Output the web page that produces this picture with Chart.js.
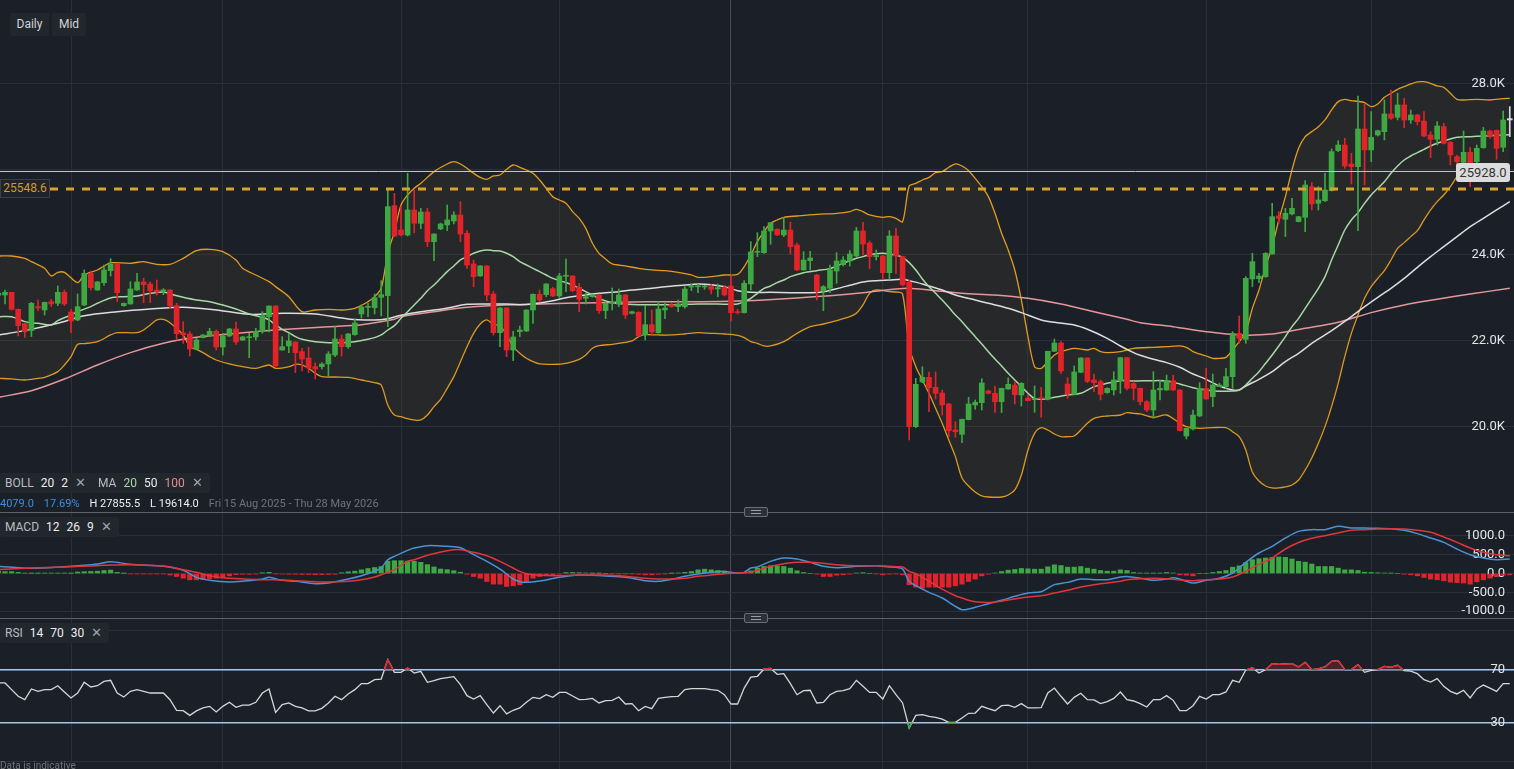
<!DOCTYPE html>
<html>
<head>
<meta charset="utf-8">
<title>Daily</title>
<script src="https://cdn.jsdelivr.net/npm/chart.js@4/dist/chart.umd.min.js"></script>
<style>
  html, body { margin: 0; padding: 0; background: #1b2028; }
  body { width: 1514px; height: 769px; overflow: hidden; position: relative; font-family: Roboto, "Noto Sans", Arial, sans-serif; }
  canvas { position: absolute; left: 0; display: block; }
  #mainChart { top: 0; }
  #macdChart { top: 513px; }
  #rsiChart { top: 619px; }
  .btn { position: absolute; top: 13px; height: 23px; line-height: 23px; background: #22262d; color: #d2d4d8; font-size: 12px; text-align: center; border-radius: 2px; }
  .tag { position: absolute; height: 20px; line-height: 20px; background: #22262d; color: #b9bcc2; font-size: 12px; padding: 0 7px 0 5px; white-space: nowrap; border-radius: 2px; }
  .tag b { font-weight: normal; color: #eceef0; margin-left: 7px; }
  .tag i { font-style: normal; color: #a0a3a8; margin-left: 7px; font-size: 13px; }
  .sep { position: absolute; left: 0; width: 1514px; height: 1px; background: #5e6168; }
  .handle { position: absolute; left: 744px; width: 22px; height: 8px; background: #2c3038; border: 1px solid #6a6d74; border-radius: 2px; }
  .handle:before, .handle:after { content: ""; position: absolute; left: 6px; width: 10px; height: 1px; background: #9a9da3; }
  .handle:before { top: 2px; } .handle:after { top: 5px; }
  #info { position: absolute; top: 497px; left: 0; font-size: 11px; color: #6f747b; white-space: nowrap; }
  #info span { margin-right: 10px; }
  #leftLevel { position: absolute; left: 0; top: 179px; width: 48px; height: 17px; line-height: 17px; background: #1f232a; border: 1px solid #3a3e45; color: #d39a2c; font-size: 12px; text-align: center; }
  #rightLevel { position: absolute; left: 1456px; top: 163px; width: 54px; height: 19px; line-height: 19px; background: #dcdcdc; color: #333; font-size: 13px; text-align: center; border-radius: 3px; }
  #note { position: absolute; left: 0; top: 760px; font-size: 10px; color: #6f747b; }
</style>
</head>
<body>
<canvas id="mainChart" width="1514" height="512"></canvas>
<canvas id="macdChart" width="1514" height="105"></canvas>
<canvas id="rsiChart" width="1514" height="150"></canvas>

<div class="btn" style="left:10px;width:39px">Daily</div>
<div class="btn" style="left:52px;width:34px">Mid</div>
<div id="leftLevel">25548.6</div>
<div id="rightLevel">25928.0</div>
<div class="tag" style="left:0;top:473px">BOLL<b>20</b><b>2</b><i>✕</i></div>
<div class="tag" style="left:91px;top:473px;padding-left:7px">MA<b style="color:#a6d9a2">20</b><b>50</b><b style="color:#e58f8f">100</b><i>✕</i></div>
<div id="info"><span style="color:#3d8fe0">4079.0</span><span style="color:#3d8fe0">17.69%</span><span style="color:#eef0f2">H 27855.5</span><span style="color:#eef0f2">L 19614.0</span><span>Fri 15 Aug 2025 - Thu 28 May 2026</span></div>
<div class="sep" style="top:512px"></div>
<div class="handle" style="top:507px"></div>
<div class="tag" style="left:0;top:517px">MACD<b>12</b><b>26</b><b>9</b><i>✕</i></div>
<div class="sep" style="top:618px"></div>
<div class="handle" style="top:613px"></div>
<div class="tag" style="left:0;top:623px">RSI<b>14</b><b>70</b><b>30</b><i>✕</i></div>
<div id="note">Data is indicative</div>

<script>
// candles, one per trading day (index 0 = partly hidden at the left edge)
const opens = [
  23060,23064,23126,22730,22395,22232,22792,22714,22908,22870,
  23126,22667,22481,22831,23570,23181,23352,23632,23788,22815,
  22854,23181,23368,23321,23181,23160,23181,22815,22177,22154,
  21804,22068,22107,22216,21850,22107,22271,22014,22068,22084,
  22216,22558,22807,21780,21874,21967,21742,21594,21391,21391,
  21454,21664,22037,21858,22138,22621,22776,22768,23010,23049,
  25149,24581,24465,25048,24737,25001,24309,24605,24698,24791,
  24931,24504,23788,23508,23741,23087,22185,22761,21780,22208,
  22224,22714,23080,23072,23212,23041,23500,23508,23243,22986,
  23025,23064,22698,22870,22854,23064,22636,22660,22138,22372,
  22185,22714,22839,22792,22792,23250,23255,23250,23259,23204,
  23235,23274,22675,22652,23321,24060,24052,24558,24597,24465,
  24581,24231,23648,23865,23531,23157,23220,23624,23772,23857,
  23974,24558,24278,23960,23974,23585,24441,23959,23360,19991,
  21034,21142,20909,20777,20520,19913,19812,20155,20497,20551,
  20823,20769,20575,20870,20963,20730,20660,20620,20660,20629,
  21749,21944,20987,20746,21259,21594,21080,21041,20785,20847,
  21065,21602,20995,20886,20574,20380,20847,20847,21065,20847,
  19773,19937,20240,20886,20691,20925,20925,21158,22169,22029,
  23438,23445,23492,24021,24908,24830,24955,24776,24877,25593,
  25204,25266,25499,26433,26565,26122,26059,26939,26449,26798,
  26876,27289,27211,27499,27149,27265,27125,26799,26697,26993,
  26627,26293,26161,26394,26176,26503,26892,26908,26511,27149
];
const highs = [
  23130,23181,23130,22740,22400,22893,22947,22900,22963,23274,
  23181,22730,23087,23648,23624,23380,23764,23912,23800,22880,
  23375,23570,23453,23368,23414,23212,23190,22870,22442,22208,
  22053,22140,22286,22247,22170,22286,22434,22100,22170,22286,
  22675,22810,22815,22092,22170,21975,21819,21843,21485,21485,
  21742,22325,22130,22170,22504,22831,22870,23087,23399,25530,
  25437,25126,25904,25515,25087,25087,24490,24740,25165,25009,
  25243,24566,23881,23750,23750,23150,22770,22770,22216,22340,
  22720,23090,23181,23330,23243,23570,23904,23515,23336,23103,
  23080,23087,22908,23227,23204,23080,22690,22675,22823,22714,
  22908,22870,22870,22947,23259,23321,23321,23290,23305,23321,
  23290,23531,22730,23399,24309,24519,24659,24760,24610,24877,
  24760,24278,24075,24083,23546,23282,23764,24052,23959,24099,
  24643,24760,24324,24115,23990,24566,24628,23970,23414,21119,
  21391,21267,21267,20847,20536,20108,20170,20676,20613,21111,
  20847,20940,20890,21134,21041,21018,20730,20940,20909,21755,
  22037,21975,21134,21407,21600,21600,21220,21080,20900,21275,
  21610,21610,21042,20890,20598,21275,21080,21197,21189,20855,
  19960,20380,21018,21353,21220,21003,21353,22208,22574,23492,
  24037,23570,24052,25204,25009,25087,25320,24900,25733,25686,
  25593,25904,26472,26666,26721,26371,27709,27522,27343,26910,
  27615,27849,27771,27654,27382,27281,27343,26876,27110,27071,
  26643,26332,26892,26503,26565,26978,26915,26915,27359,27460
];
const lows = [
  23030,22854,22714,22107,22076,22092,22698,22597,22792,22815,
  22815,22185,22465,22815,23181,23170,23290,23508,22908,22800,
  22850,23170,22885,22885,23064,23072,22753,22014,21936,21640,
  21796,22060,22092,21780,21664,22092,21913,22000,21601,22014,
  22170,22201,21400,21775,21718,21252,21290,21252,21104,21337,
  21158,21625,21640,21819,22123,22527,22558,22621,22574,22325,
  24426,24441,24441,24519,24612,24192,23865,24590,24566,24721,
  24309,23687,23259,23500,22932,22131,21858,21625,21531,22092,
  22208,22403,22901,23025,23025,23010,23142,23142,22675,22854,
  23010,22636,22512,22714,22792,22512,22620,22092,22014,22115,
  22170,22512,22776,22675,22753,23165,23118,23196,23087,23025,
  23041,22457,22621,22640,23181,23959,24037,24247,24450,24426,
  24021,23632,23640,23648,22947,22698,23118,23337,23741,23741,
  23959,23998,23679,23881,23430,23430,23570,23274,19680,19968,
  21018,20341,20637,20263,19757,19742,19618,20150,20396,20380,
  20754,20326,20318,20862,20520,20473,20590,20326,20209,20613,
  21741,21236,20652,20730,21250,21018,20808,20613,20770,20730,
  20769,20847,20614,20497,20341,20186,20614,20840,20831,19890,
  19703,19913,20225,20629,20458,20925,20886,20886,21936,21936,
  23259,23352,23476,24020,24737,24426,24931,24770,24542,25048,
  25048,25242,25490,26410,26020,25655,24566,25632,26176,26775,
  26682,27164,27149,26970,27071,27032,26760,26270,26565,26588,
  26098,26098,26098,25593,26137,26487,26721,26231,26410,26760
];
const closes = [
  23100,23126,22730,22348,22208,22870,22761,22893,22854,23126,
  22854,22457,22792,23570,23235,23368,23648,23788,23118,22870,
  23204,23368,23305,23165,23134,23170,22815,22162,22138,21804,
  22014,22130,22216,21850,22107,22271,21967,22084,22084,22216,
  22582,22807,21407,21858,21991,21718,21570,21360,21337,21454,
  21687,22037,21858,22154,22411,22784,22792,23002,23072,25126,
  24441,24465,25048,24737,25001,24309,24488,24721,24815,24931,
  24488,23764,23492,23741,23064,22185,22761,21780,22084,22247,
  22714,23080,22947,23321,23041,23508,23515,23165,22963,23025,
  23064,22698,22870,22885,23064,22597,22675,22115,22372,22201,
  22737,22761,22792,22854,23204,23260,23265,23258,23196,23235,
  23064,22652,22652,23337,24068,24075,24558,24752,24465,24581,
  24192,23648,23881,23928,23157,23259,23648,23857,23881,24021,
  24558,24254,23959,23972,23585,24441,23974,23305,19991,20979,
  21142,20901,20769,20497,19898,19874,20162,20520,20559,21010,
  20769,20575,20886,20979,20738,21002,20598,20630,20645,21749,
  21944,21290,20754,21267,21594,21049,21018,20746,20886,21081,
  21602,20886,20886,20574,20380,20847,20886,21065,20847,19898,
  19952,20263,20886,20637,20964,20964,21158,22169,22053,23453,
  23842,23507,24037,24892,24853,24970,25087,24892,25632,25188,
  25282,25515,26410,26565,26075,26059,26939,26449,26744,26900,
  27289,27188,27499,27149,27265,27110,26775,26697,27009,26604,
  26332,26176,26394,26137,26487,26892,26775,26487,27149,27180
];

// overlay lines as [candle index, value]
const bollUpper = [
  [0,23974],[2,23974],[4,23920],[5,23842],[7,23687],[8,23508],[9,23593],[10,23593],[12,23352],[13,23531],
  [15,23648],[16,23741],[17,23819],[20,23803],[22,23842],[24,23780],[26,23780],[28,23920],[30,24099],[32,24130],
  [34,24076],[36,23881],[37,23687],[39,23531],[41,23375],[42,23259],[44,23025],[46,22675],[48,22714],[50,22730],
  [52,22714],[54,22753],[56,22908],[57,23025],[58,23220],[59,24037],[60,24542],[61,25165],[62,25398],[63,25554],
  [64,25670],[66,25943],[68,26122],[69,26176],[70,26122],[71,26020],[72,25904],[73,25810],[74,25764],[75,25842],
  [76,25865],[77,25997],[78,26098],[79,26044],[80,25982],[81,25904],[82,25748],[83,25554],[84,25359],[85,25281],
  [86,25204],[87,25009],[88,24853],[89,24620],[90,24270],[91,24037],[92,23904],[93,23788],[95,23741],[97,23687],
  [99,23648],[101,23632],[103,23593],[105,23531],[106,23477],[108,23492],[110,23531],[112,23546],[113,23725],[114,23998],
  [115,24309],[116,24542],[117,24737],[118,24815],[119,24877],[121,24908],[124,24947],[127,24970],[129,25009],[130,25064],
  [131,25009],[132,24931],[134,24877],[135,24893],[136,24853],[137,24776],[138,25608],[139,25670],[140,25748],[141,25810],
  [142,25919],[143,25943],[144,26044],[145,26122],[146,26075],[147,25966],[148,25787],[149,25593],[150,25359],[151,24970],
  [152,24504],[153,24115],[154,23648],[155,22947],[156,22092],[157,21391],[158,21353],[159,21508],[160,21664],[161,21742],
  [163,21819],[165,21780],[166,21819],[167,21742],[168,21718],[170,21742],[172,21819],[175,21843],[177,21858],[179,21874],
  [180,21843],[181,21742],[182,21687],[183,21640],[184,21586],[185,21586],[186,21609],[187,21780],[188,21975],[189,22208],
  [190,22753],[191,23181],[192,23725],[193,24192],[194,24815],[195,25359],[196,25982],[197,26487],[198,26760],[199,26877],
  [200,26993],[201,27149],[202,27382],[203,27577],[204,27631],[205,27600],[206,27584],[207,27553],[208,27460],[209,27522],
  [210,27678],[211,27771],[212,27864],[213,27927],[214,27989],[215,28036],[216,28043],[217,28004],[218,27942],[219,27911],
  [220,27771],[221,27631],[222,27615],[224,27631],[226,27615],[228,27647],[229,27654]
];
const bollLower = [
  [0,21119],[2,21104],[4,21080],[6,21119],[7,21142],[9,21275],[10,21430],[11,21625],[12,21913],[13,21928],
  [15,21975],[17,22131],[18,22185],[21,22185],[22,22247],[23,22364],[24,22481],[25,22496],[26,22418],[27,22286],
  [28,22131],[29,21858],[30,21796],[31,21718],[32,21625],[33,21547],[35,21454],[37,21391],[39,21353],[41,21430],
  [42,21353],[44,21391],[45,21446],[46,21430],[47,21353],[48,21236],[49,21158],[51,21150],[53,21142],[55,21080],
  [57,21018],[58,20963],[59,20497],[60,20263],[61,20224],[62,20178],[63,20147],[64,20147],[65,20263],[66,20458],
  [67,20629],[68,20886],[69,21158],[70,21508],[71,21858],[72,22169],[73,22387],[74,22481],[75,22379],[76,22348],
  [77,22131],[78,21858],[79,21703],[80,21586],[81,21508],[82,21454],[84,21446],[86,21470],[88,21563],[89,21664],
  [90,21819],[91,21882],[93,21913],[95,21959],[96,21991],[97,22092],[98,22138],[100,22131],[102,22131],[104,22154],
  [106,22185],[108,22170],[110,22154],[112,22123],[113,22068],[114,21975],[115,21936],[116,21874],[117,21874],[119,21975],
  [121,22169],[123,22325],[125,22387],[127,22465],[129,22558],[130,22636],[131,22831],[132,23103],[133,23181],[135,23142],
  [136,23134],[137,23087],[138,21858],[139,21391],[140,21080],[141,20769],[142,20419],[143,20069],[144,19680],[145,19291],
  [146,18793],[147,18606],[148,18466],[149,18373],[150,18349],[152,18349],[153,18396],[154,18513],[155,18863],[156,19446],
  [157,19835],[158,19968],[159,19913],[160,19820],[161,19757],[162,19757],[163,19773],[164,19913],[165,20069],[166,20185],
  [167,20224],[168,20240],[170,20263],[171,20318],[172,20302],[173,20287],[175,20209],[177,20263],[179,20069],[180,19991],
  [182,19952],[184,19968],[186,19968],[187,19874],[188,19757],[189,19446],[190,18933],[191,18723],[192,18606],[193,18560],
  [194,18560],[195,18583],[196,18629],[197,18746],[198,18979],[199,19259],[200,19602],[201,19991],[202,20458],[203,21003],
  [204,21625],[205,22169],[206,22597],[207,22986],[208,23259],[209,23453],[210,23632],[211,23881],[212,24153],[213,24286],
  [214,24426],[215,24566],[216,24815],[217,25048],[218,25243],[219,25398],[220,25593],[221,25826],[222,25982],[224,26020],
  [226,26020],[229,25982]
];
const ma20 = [
  [0,22558],[2,22558],[4,22442],[6,22403],[8,22364],[9,22465],[11,22597],[12,22675],[14,22792],[15,22870],
  [17,22994],[19,23025],[21,23041],[23,23103],[25,23134],[26,23087],[28,23010],[30,22947],[32,22908],[34,22831],
  [36,22737],[38,22621],[40,22543],[41,22481],[42,22364],[43,22263],[44,22185],[45,22092],[46,22029],[48,21975],
  [50,21952],[52,21952],[54,21975],[56,22029],[57,22068],[58,22131],[59,22247],[60,22348],[61,22519],[62,22675],
  [63,22831],[64,22986],[65,23165],[66,23297],[67,23453],[68,23609],[69,23741],[70,23881],[71,23959],[72,24037],
  [73,24091],[74,24115],[75,24099],[76,24091],[77,24037],[78,23959],[79,23842],[80,23764],[81,23687],[82,23609],
  [83,23531],[84,23453],[85,23399],[86,23352],[87,23297],[88,23220],[89,23142],[90,23064],[91,22986],[92,22924],
  [93,22885],[95,22854],[97,22839],[100,22839],[103,22839],[106,22854],[109,22854],[111,22846],[112,22854],[113,22908],
  [114,22986],[115,23103],[116,23220],[117,23274],[118,23352],[119,23414],[120,23492],[122,23585],[124,23632],[126,23679],
  [127,23741],[128,23803],[129,23865],[130,23920],[131,23959],[132,24006],[133,24029],[134,24037],[135,24021],[136,23998],
  [137,23943],[138,23819],[139,23648],[140,23438],[141,23259],[142,23103],[143,22947],[144,22776],[145,22597],[146,22442],
  [147,22263],[148,22092],[149,21921],[150,21742],[151,21570],[152,21407],[153,21236],[154,21080],[155,20925],[156,20769],
  [157,20645],[158,20629],[159,20645],[160,20676],[162,20730],[164,20769],[166,20925],[168,21003],[170,21065],[172,21057],
  [175,21065],[177,21057],[179,20987],[181,20901],[183,20847],[185,20816],[187,20823],[188,20847],[189,20964],[190,21119],
  [191,21275],[192,21469],[193,21664],[194,21874],[195,22091],[196,22325],[197,22519],[198,22753],[199,22986],[200,23220],
  [201,23492],[202,23881],[203,24231],[204,24581],[205,24815],[206,24986],[207,25203],[208,25398],[209,25554],[210,25709],
  [211,25904],[212,26075],[213,26215],[214,26308],[215,26386],[216,26464],[217,26542],[218,26604],[219,26659],[220,26705],
  [221,26744],[223,26760],[225,26775],[227,26791],[229,26806]
];
const ma50 = [
  [0,22131],[4,22232],[9,22403],[13,22582],[18,22675],[23,22737],[28,22776],[33,22714],[38,22613],[43,22636],
  [48,22621],[53,22504],[57,22481],[59,22512],[61,22590],[64,22675],[67,22730],[69,22792],[71,22846],[74,22854],
  [77,22854],[79,22839],[81,22862],[84,22932],[86,23002],[89,23064],[91,23103],[94,23142],[96,23181],[99,23220],
  [101,23259],[104,23297],[106,23321],[108,23305],[110,23259],[112,23165],[114,23126],[117,23126],[120,23118],[123,23118],
  [125,23142],[127,23212],[129,23290],[131,23368],[133,23399],[135,23414],[137,23430],[138,23399],[140,23321],[143,23181],
  [145,23064],[148,22947],[150,22870],[153,22753],[155,22652],[158,22481],[160,22426],[163,22364],[165,22263],[168,22053],
  [170,21874],[172,21718],[173,21656],[175,21562],[177,21485],[179,21376],[181,21220],[183,21096],[185,20940],[187,20847],
  [188,20847],[189,20940],[191,21096],[193,21275],[195,21508],[197,21703],[199,21936],[201,22131],[203,22340],[205,22559],
  [207,22792],[209,23010],[211,23220],[213,23453],[215,23710],[217,23959],[219,24192],[221,24426],[223,24659],[225,24854],
  [227,25048],[229,25243]
];
const ma100 = [
  [0,20676],[5,20831],[10,21104],[15,21430],[20,21718],[25,21936],[30,22076],[35,22154],[40,22224],[45,22278],
  [50,22325],[55,22372],[60,22500],[61,22559],[66,22675],[71,22776],[76,22823],[81,22846],[86,22870],[91,22885],
  [96,22901],[101,22908],[106,22908],[111,22916],[116,22947],[121,22994],[126,23049],[131,23118],[136,23204],[138,23220],
  [141,23181],[146,23103],[151,23064],[156,22986],[161,22854],[166,22675],[171,22496],[173,22418],[178,22325],[183,22208],
  [188,22131],[193,22154],[198,22286],[203,22426],[208,22652],[213,22831],[218,22963],[223,23087],[229,23220]
];

const macdLine = [
  [0,190],[5,137],[10,181],[13,217],[15,252],[17,314],[20,243],[25,190],[28,84],[30,-102],
  [32,-181],[35,-226],[40,-146],[41,-102],[43,-181],[45,-208],[48,-270],[50,-252],[53,-146],[55,-58],
  [57,60],[58,150],[59,363],[60,456],[62,615],[63,677],[65,739],[68,721],[70,686],[72,500],
  [74,323],[76,119],[78,-146],[79,-217],[80,-235],[82,-199],[85,-102],[88,-40],[90,-49],[92,-66],
  [95,-102],[98,-190],[100,-208],[102,-155],[104,-75],[106,-13],[108,31],[110,58],[111,31],[112,13],
  [113,31],[114,146],[115,173],[117,323],[119,412],[121,385],[123,296],[125,190],[127,155],[130,190],
  [133,208],[135,173],[136,164],[137,119],[138,-208],[139,-323],[141,-500],[143,-650],[145,-872],[146,-960],
  [147,-942],[148,-898],[150,-801],[152,-712],[154,-606],[156,-518],[158,-482],[160,-296],[162,-235],[164,-146],
  [166,-164],[168,-164],[170,-93],[171,-80],[173,-128],[175,-181],[177,-146],[178,-111],[179,-146],[180,-208],
  [181,-252],[183,-181],[185,-128],[187,13],[189,296],[191,544],[193,721],[195,942],[197,1119],[199,1164],
  [201,1164],[203,1252],[205,1208],[207,1208],[209,1199],[211,1190],[213,1146],[215,1058],[217,942],[219,827],
  [221,650],[223,500],[225,412],[227,367],[229,385]
];
const signalLine = [
  [0,102],[5,146],[10,173],[15,208],[17,226],[20,235],[25,199],[28,102],[30,31],[32,-58],
  [35,-128],[40,-164],[43,-173],[45,-190],[48,-217],[50,-226],[53,-208],[55,-164],[57,-93],[58,-31],
  [60,102],[62,323],[63,367],[65,482],[68,606],[70,633],[72,562],[74,473],[76,323],[78,146],
  [79,58],[80,-4],[82,-49],[85,-58],[88,-40],[92,-40],[95,-75],[98,-128],[100,-146],[102,-146],
  [104,-128],[106,-75],[108,-40],[110,-4],[112,13],[114,40],[115,84],[117,190],[119,261],[121,296],
  [123,296],[125,270],[127,235],[130,208],[133,208],[135,190],[136,181],[137,173],[138,58],[139,-4],
  [141,-208],[143,-416],[145,-589],[146,-650],[147,-712],[148,-752],[150,-770],[152,-734],[154,-677],[156,-624],
  [158,-589],[160,-518],[162,-447],[164,-358],[166,-296],[168,-252],[170,-208],[171,-164],[173,-137],[175,-128],
  [177,-137],[179,-173],[181,-190],[183,-164],[185,-146],[187,-93],[189,58],[191,243],[193,412],[195,650],
  [197,823],[199,934],[201,1004],[203,1075],[205,1146],[207,1164],[209,1181],[211,1190],[213,1181],[215,1146],
  [217,1093],[219,969],[221,827],[223,677],[225,562],[227,500],[229,474]
];
const macdHist = [
  55,50,50,30,10,5,5,10,10,10,
  10,5,40,50,55,60,80,90,30,5,
  -10,-10,-10,-10,-10,-10,-40,-80,-124,-168,
  -168,-150,-135,-125,-100,-62,-30,-20,-20,-15,
  20,30,-10,-15,-20,-20,-25,-25,-30,-30,
  -25,-20,20,44,62,97,133,159,186,323,
  340,340,330,323,296,235,173,119,102,75,
  35,-18,-80,-124,-212,-283,-283,-345,-327,-300,
  -212,-124,-80,-44,-35,-18,25,27,20,15,
  5,5,0,-5,-5,-5,-5,-20,-35,-35,
  -20,-5,5,15,31,53,97,115,97,80,
  53,27,13,20,70,142,186,204,204,186,
  142,71,27,0,-18,-80,-80,-44,-35,-18,
  13,22,0,-10,-35,-18,-10,-35,-300,-363,
  -389,-363,-363,-363,-363,-327,-283,-212,-150,-62,
  -18,13,53,88,106,133,124,115,115,177,
  230,212,168,168,186,142,115,80,62,62,
  97,80,27,10,10,10,10,27,13,-35,
  -44,-62,0,0,27,53,80,168,204,292,
  367,393,411,429,438,429,385,323,301,252,
  186,186,186,142,97,97,80,35,27,18,
  13,9,0,-18,-35,-62,-106,-150,-168,-195,
  -230,-243,-252,-283,-221,-168,-124,-80,-44,-35
];
const rsi = [
  60.1,60.1,55,49.9,47.3,55.5,53.7,55,55,58,
  53.2,48.6,52.4,60.6,57,58,61.3,62.1,52.4,49.4,
  53.7,55,53.7,52.4,52.4,52.4,47.3,39.2,38.9,35.3,
  38.7,41,42.2,37.9,42.2,45.3,41.5,43.2,43.2,45.3,
  52.4,55.5,37.6,43.5,44.8,42.2,41,38.7,38.7,40.7,
  44.8,49.9,47.3,51.7,55,59.6,59.6,62.6,63.1,77.9,
  68.2,68.2,71.5,67.7,69,60.6,61.8,63.4,64.1,64.9,
  58.8,50.4,47.8,50.4,43.5,37.1,42.7,36.4,39.2,41,
  45.3,49.1,48.1,51.1,49.1,52.9,52.9,50.1,47.3,47.6,
  48.3,44.8,46.6,46.8,49.4,44,44.3,38.9,42.2,40.4,
  48.3,49.1,49.6,49.9,55,55.7,55.7,55.7,55,54.5,
  51.1,44,44,56.2,64.5,65.2,70.8,71.3,66.7,67.2,
  59.6,51.1,54.2,54.5,44.8,45.3,51.1,53.7,54.2,55.7,
  62.1,57.5,52.9,52.9,47.8,58,51.1,44.8,25.7,35.3,
  35.9,34.6,33.8,32.5,30,30,33.3,36.9,37.1,42.2,
  40.4,38.9,42.7,43.2,41.5,44.3,41,41,41.2,52.4,
  56.2,49.9,44,49.1,52.2,47.3,47.1,44.3,45.8,48.3,
  53.2,47.3,46.3,44.3,41.7,47.3,47.3,50.4,46.8,38.9,
  38.9,42.7,49.9,47.8,51.1,51.1,53.2,62.1,60.6,70,
  71.8,67.7,70.3,74.8,74.3,74.6,74.8,72.3,75.9,70.3,
  70.8,72.3,76.6,77.1,70.3,70.3,74.1,68.2,69.7,70.3,
  72.8,72,73.6,69.5,69.2,67.2,62.6,60.8,63.4,57.5,
  53.7,51.7,54.5,48.6,55.5,58.5,56.2,53.7,59.6,59.6
];

// horizontal levels, axis ticks and month separators (candle index)
const levels = [{ price: 25928.0, kind: 'price' }, { price: 25548.6, kind: 'alert' }];
const priceTicks = [20000, 22000, 24000, 26000, 28000];
const macdTicks = [-1000, -500, 0, 500, 1000];
const rsiTicks = [0, 30, 70, 100];
const monthIdx = [11, 34, 61, 85, 111, 134, 156, 183, 208];
const yearIdx = 111;

const UP = '#3ea843';
const DOWN = '#e2242a';
const GRID = '#2a3039';
const FONT = 'Roboto, "Noto Sans", Arial, sans-serif';

Chart.defaults.font.family = FONT;
Chart.defaults.animation = false;
Chart.defaults.events = [];

const pts = arr => arr.map(([x, y]) => ({ x: x, y: y }));
const idx = closes.map((c, i) => i);
const candleColor = closes.map((c, i) => i === closes.length - 1 ? '#d8d8d8' : (c >= opens[i] ? UP : DOWN));

function xAxis() {
    return {
        type: 'linear', min: 0.24, max: 229.64, offset: false,
        border: { display: false },
        ticks: { display: false },
        grid: {
            drawTicks: false, offset: false,
            color: c => (c.tick && c.tick.value === yearIdx) ? '#454b55' : GRID
        },
        afterBuildTicks: s => { s.ticks = monthIdx.map(v => ({ value: v })); },
        afterFit: s => { s.height = 0; }
    };
}

function yAxis(min, max, ticks, fmt, gridColor, gridWidth) {
    return {
        type: 'linear', position: 'right', min: min, max: max,
        border: { display: false },
        grid: { drawTicks: false, color: gridColor || GRID, lineWidth: gridWidth || 1 },
        ticks: { mirror: true, padding: -9, color: '#e4e5e7', font: { size: 13 }, callback: fmt },
        afterBuildTicks: s => { s.ticks = ticks.map(v => ({ value: v })); },
        afterFit: s => { s.width = 0; }
    };
}

const baseOptions = {
    responsive: false,
    maintainAspectRatio: false,
    layout: { padding: 0, autoPadding: false },
    plugins: { legend: { display: false }, tooltip: { enabled: false } }
};

// dashed alert level and last price line
const levelLines = {
    id: 'levelLines',
    afterDatasetsDraw(chart) {
        const ctx = chart.ctx;
        const area = chart.chartArea;
        levels.forEach(l => {
            const y = Math.round(chart.scales.y.getPixelForValue(l.price));
            ctx.save();
            ctx.beginPath();
            if (l.kind === 'alert') {
                ctx.strokeStyle = '#d9a02a';
                ctx.lineWidth = 3;
                ctx.setLineDash([8, 8]);
                ctx.moveTo(area.left + 50, y);
                ctx.lineTo(area.right, y);
            } else {
                ctx.strokeStyle = '#c4c6c9';
                ctx.lineWidth = 1;
                ctx.moveTo(area.left, y - 0.5);
                ctx.lineTo(area.right, y - 0.5);
            }
            ctx.stroke();
            ctx.restore();
        });
    }
};

new Chart(document.getElementById('mainChart'), {
    type: 'bar',
    data: {
        datasets: [
            { type: 'line', data: pts(bollUpper), borderColor: '#e39c1e', borderWidth: 1.3, pointRadius: 0, tension: 0.3,
              fill: '+1', backgroundColor: 'rgba(128,106,60,0.11)', order: 9 },
            { type: 'line', data: pts(bollLower), borderColor: '#e39c1e', borderWidth: 1.3, pointRadius: 0, tension: 0.3, fill: false, order: 9 },
            { type: 'line', data: pts(ma100), borderColor: '#e3979b', borderWidth: 1.5, pointRadius: 0, tension: 0.3, order: 6 },
            { type: 'line', data: pts(ma50), borderColor: '#dcdddf', borderWidth: 1.5, pointRadius: 0, tension: 0.3, order: 5 },
            { type: 'line', data: pts(ma20), borderColor: '#a9d9a6', borderWidth: 1.5, pointRadius: 0, tension: 0.3, order: 4 },
            { data: idx.map(i => ({ x: i, y: [lows[i], highs[i]] })), backgroundColor: candleColor,
              barThickness: 1, grouped: false, order: 2 },
            { data: idx.map(i => ({ x: i, y: [Math.min(opens[i], closes[i]), Math.max(opens[i], closes[i])] })),
              backgroundColor: candleColor, barThickness: 5, minBarLength: 1, grouped: false, order: 1 }
        ]
    },
    options: Object.assign({}, baseOptions, {
        scales: {
            x: xAxis(),
            y: yAxis(17999, 29949, priceTicks, v => (v / 1000).toFixed(1) + 'K')
        }
    }),
    plugins: [levelLines]
});

new Chart(document.getElementById('macdChart'), {
    type: 'bar',
    data: {
        datasets: [
            { type: 'line', data: pts(signalLine), borderColor: '#e0363b', borderWidth: 1.5, pointRadius: 0, tension: 0.3, order: 0 },
            { type: 'line', data: pts(macdLine), borderColor: '#4a92d4', borderWidth: 1.5, pointRadius: 0, tension: 0.3, order: 1 },
            { data: macdHist.map((v, i) => ({ x: i, y: v })), backgroundColor: macdHist.map(v => v >= 0 ? UP : DOWN),
              barThickness: 4.5, grouped: false, order: 2 }
        ]
    },
    options: Object.assign({}, baseOptions, {
        scales: {
            x: xAxis(),
            y: yAxis(-1181, 1606, macdTicks, v => v.toFixed(1))
        }
    })
});

// keep the red part of the RSI above 70 and the green part below 30
const zoneClip = {
    id: 'zoneClip',
    beforeDatasetDraw(chart, args) {
        const ds = chart.data.datasets[args.index];
        if (!ds.zone) return;
        const a = chart.chartArea;
        const y = chart.scales.y.getPixelForValue(ds.zone.value);
        const ctx = chart.ctx;
        ctx.save();
        ctx.beginPath();
        if (ds.zone.side === 'above') ctx.rect(a.left, a.top, a.right - a.left, y - a.top);
        else ctx.rect(a.left, y, a.right - a.left, a.bottom - y);
        ctx.clip();
    },
    afterDatasetDraw(chart, args) {
        if (chart.data.datasets[args.index].zone) chart.ctx.restore();
    }
};

const rsiPts = rsi.map((v, i) => ({ x: i, y: v }));
new Chart(document.getElementById('rsiChart'), {
    type: 'line',
    data: {
        datasets: [
            { data: rsiPts, borderColor: '#e0252b', borderWidth: 1.3, pointRadius: 0, zone: { value: 70, side: 'above' },
              fill: { value: 70, above: 'rgba(140,35,42,0.45)', below: 'rgba(0,0,0,0)' }, order: 0 },
            { data: rsiPts, borderColor: '#3ea843', borderWidth: 1.3, pointRadius: 0, zone: { value: 30, side: 'below' },
              fill: { value: 30, below: 'rgba(62,168,67,0.3)', above: 'rgba(0,0,0,0)' }, order: 1 },
            { data: rsiPts, borderColor: '#d5d6d8', borderWidth: 1.3, pointRadius: 0, fill: false, order: 2 }
        ]
    },
    options: Object.assign({}, baseOptions, {
        scales: {
            x: xAxis(),
            y: yAxis(-5.7, 109, rsiTicks, v => (v === 30 || v === 70) ? String(v) : '',
                c => (c.tick && (c.tick.value === 30 || c.tick.value === 70)) ? '#a9c8ef' : GRID,
                c => (c.tick && (c.tick.value === 30 || c.tick.value === 70)) ? 1.5 : 1)
        }
    }),
    plugins: [zoneClip]
});
</script>
</body>
</html>
